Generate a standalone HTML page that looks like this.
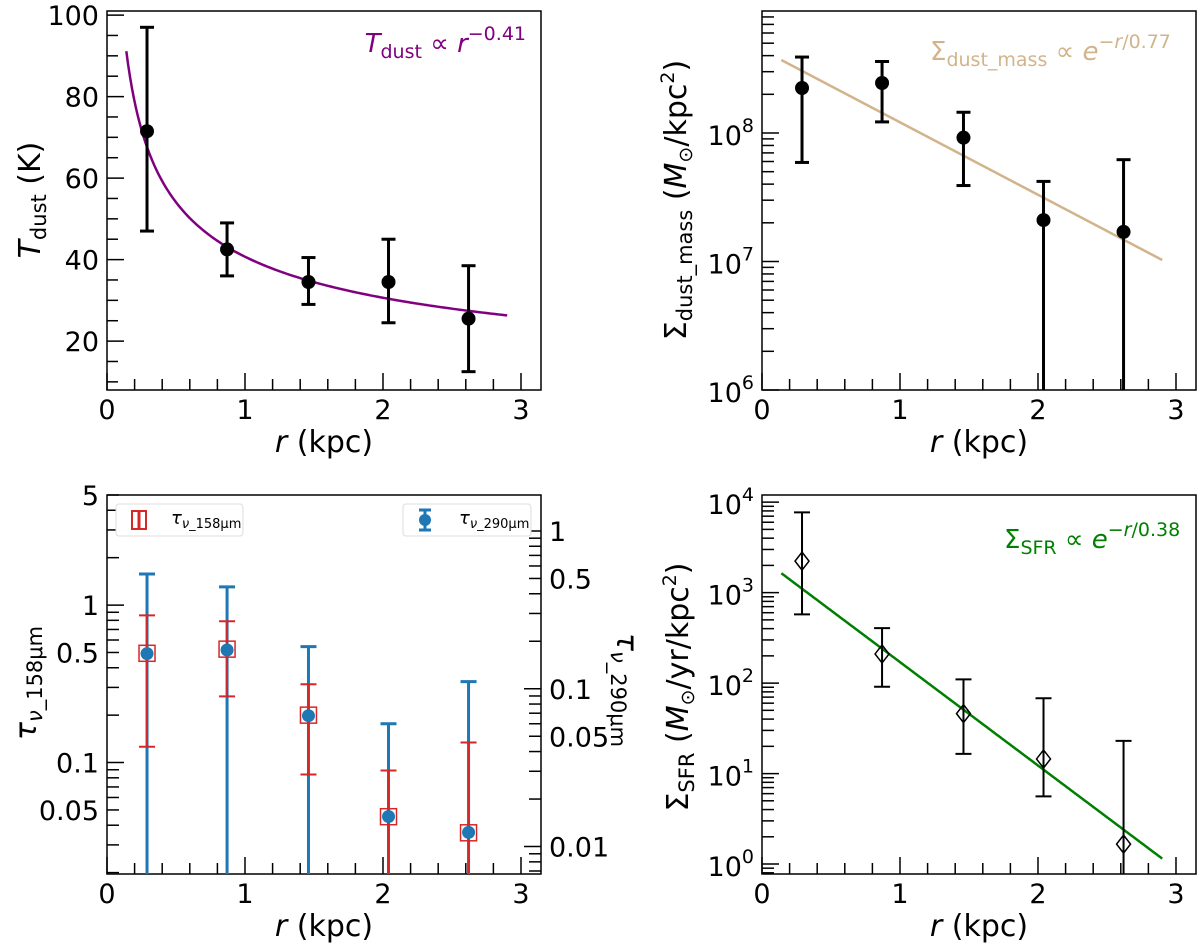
<!DOCTYPE html>
<html><head><meta charset="utf-8"><style>
html,body{margin:0;padding:0;background:#fff;}
svg{display:block;font-family:"DejaVu Sans","Liberation Sans",sans-serif;}
</style></head><body>
<svg id="fig" width="1200" height="949" viewBox="0 0 1200 949" xmlns="http://www.w3.org/2000/svg"></svg>
<script>
// ---- data ----
const radii = [0.29, 0.87, 1.46, 2.04, 2.62];
const tdust = [71.5, 42.5, 34.5, 34.5, 25.5];
const tdustLo = [47, 36, 29, 24.5, 12.5];
const tdustHi = [97, 49, 40.5, 45, 38.5];
const tdustFit = [40.7, -0.41];            // amplitude, power index
const dmass = [2.24e8, 2.45e8, 9.2e7, 2.1e7, 1.7e7];
const dmassLo = [5.9e7, 1.22e8, 3.9e7, 1e5, 1e5];
const dmassHi = [3.9e8, 3.6e8, 1.45e8, 4.2e7, 6.2e7];
const dmassFit = [4.44e8, 0.77];           // amplitude, scale length
const tau158 = [0.494, 0.525, 0.2, 0.0453, 0.0358];
const tau158Lo = [0.126, 0.263, 0.084, 0.001, 0.001];
const tau158Hi = [0.86, 0.79, 0.314, 0.089, 0.134];
const tau290 = [0.167, 0.176, 0.0675, 0.0155, 0.0123];
const tau290Lo = [0.0001, 0.0001, 0.0001, 0.0001, 0.0001];
const tau290Hi = [0.534, 0.442, 0.185, 0.06, 0.111];
const sfr = [2230, 210, 46, 14.5, 1.66];
const sfrLo = [575, 91, 16.5, 5.6, 0.01];
const sfrHi = [7700, 405, 110, 68, 23];
const sfrFit = [2370, 0.38];
const fitRange = [0.14, 2.9];
const xTicks = [0, 1, 2, 3];
const tTicks = [20, 40, 60, 80, 100];
const tau158Ticks = [0.05, 0.1, 0.5, 1, 5];
const tau290Ticks = [0.01, 0.05, 0.1, 0.5, 1];

const NS = "http://www.w3.org/2000/svg";
const svg = document.getElementById('fig');
const TF = 27; // tick font size
function mk(tag, attrs, parent, name) {
  const e = document.createElementNS(NS, tag);
  for (const k in attrs) e.setAttribute(k, attrs[k]);
  
  
  (parent || svg).appendChild(e);
  return e;
}
function panel(L, T, R, B, xmax, ymin, ymax, log, name) {
  const g = mk('g', {}, svg, name);
  const sx = x => L + (x / xmax) * (R - L);
  const tr = v => log ? Math.log10(v) : v;
  const sy = v => B - (tr(v) - tr(ymin)) / (tr(ymax) - tr(ymin)) * (B - T);
  mk('rect', {x: L, y: T, width: R - L, height: B - T, fill: 'none', stroke: '#000', 'stroke-width': 1.5}, g, 'plot-frame');
  return {g, sx, sy, L, T, R, B};
}
function xAxis(p, xmax) {
  for (let i = 0; i <= Math.floor(xmax * 5 + 1e-6); i++) {
    const v = i / 5, major = i % 5 === 0, x = p.sx(v);
    mk('line', {x1: x, x2: x, y1: p.B, y2: p.B - (major ? 17 : 11), stroke: '#000', 'stroke-width': 1.5}, p.g, 'x-tick');
  }
  xTicks.forEach(v => {
    const t = mk('text', {x: p.sx(v), y: p.B + 29, 'font-size': TF, 'text-anchor': 'middle'}, p.g, 'x-tick-label');
    t.textContent = v;
  });
  const xl = mk('text', {x: (p.L + p.R) / 2, y: p.B + 62, 'font-size': 30, 'text-anchor': 'middle'}, p.g, 'x-axis-title');
  xl.innerHTML = '<tspan font-style="italic">r</tspan> (kpc)';
}
function logTicks(p, lo, hi, side, sy, labels, supLabels) {
  const x0 = side === 'left' ? p.L : p.R, d = side === 'left' ? 1 : -1;
  for (let e = Math.floor(Math.log10(lo)) - 1; e <= Math.ceil(Math.log10(hi)); e++) {
    for (let m = 1; m <= 9; m++) {
      const v = m * Math.pow(10, e);
      if (v < lo * 0.999 || v > hi * 1.001) continue;
      const y = sy(v);
      mk('line', {x1: x0, x2: x0 + d * (m === 1 ? 17 : 12), y1: y, y2: y, stroke: '#000', 'stroke-width': 1.5}, p.g, 'y-tick');
      if (labels && labels.some(l => Math.abs(l - v) / v < 1e-6)) {
        const t = mk('text', {x: side === 'left' ? x0 - 8 : x0 + 8, y: y + 10, 'font-size': TF, 'text-anchor': side === 'left' ? 'end' : 'start'}, p.g, 'y-tick-label');
        t.textContent = +v.toPrecision(3);
      }
      if (supLabels && m === 1) {
        const t = mk('text', {x: x0 - 8, y: y + 12, 'font-size': TF, 'text-anchor': 'end'}, p.g, 'y-tick-label');
        t.innerHTML = '10<tspan font-size="19" dy="-13">' + e + '</tspan>';
      }
    }
  }
}
function errbars(p, xs, ys, lo, hi, sy, color, lw, cap, name) {
  xs.forEach((x, i) => {
    const X = p.sx(x), yl = Math.min(sy(lo[i]), p.B), yh = sy(hi[i]);
    mk('line', {x1: X, x2: X, y1: yl, y2: yh, stroke: color, 'stroke-width': lw}, p.g, name + '-errorbar');
    mk('line', {x1: X - cap, x2: X + cap, y1: yh, y2: yh, stroke: color, 'stroke-width': lw}, p.g, name + '-cap-top');
    if (sy(lo[i]) < p.B) mk('line', {x1: X - cap, x2: X + cap, y1: yl, y2: yl, stroke: color, 'stroke-width': lw}, p.g, name + '-cap-bottom');
  });
}
function fitLine(p, fn, sy, color, name) {
  let d = '';
  for (let i = 0; i <= 200; i++) {
    const r = fitRange[0] + (fitRange[1] - fitRange[0]) * i / 200;
    d += (i ? 'L' : 'M') + p.sx(r).toFixed(2) + ',' + sy(fn(r)).toFixed(2);
  }
  mk('path', {d, fill: 'none', stroke: color, 'stroke-width': 2.5}, p.g, name);
}
function ylabel(x, y, html, name, rot) {
  const t = mk('text', {x: 0, y: 0, 'font-size': 30, 'text-anchor': 'middle', transform: `translate(${x},${y}) rotate(${rot || -90})`}, svg, name);
  t.innerHTML = html;
}

// ---- panel 1: T_dust ----
const p1 = panel(107, 11, 541, 390, 3.145, 8, 101, false, 'tdust-panel');
xAxis(p1, 3.145);
for (let v = 10; v <= 100; v += 5) {
  const y = p1.sy(v), major = v % 20 === 0;
  mk('line', {x1: p1.L, x2: p1.L + (major ? 17 : 11), y1: y, y2: y, stroke: '#000', 'stroke-width': 1.5}, p1.g, 'y-tick');
}
tTicks.forEach(v => { const t = mk('text', {x: p1.L - 8, y: p1.sy(v) + 10, 'font-size': TF, 'text-anchor': 'end'}, p1.g, 'y-tick-label'); t.textContent = v; });
fitLine(p1, r => tdustFit[0] * Math.pow(r, tdustFit[1]), p1.sy, '#800080', 'tdust-fit-curve');
errbars(p1, radii, tdust, tdustLo, tdustHi, p1.sy, '#000', 3, 7, 'tdust');
radii.forEach((x, i) => mk('circle', {cx: p1.sx(x), cy: p1.sy(tdust[i]), r: 7, fill: '#000'}, p1.g, 'tdust-point'));
{ const t = mk('text', {x: 526, y: 52, 'font-size': 26, 'text-anchor': 'end', fill: '#800080'}, p1.g, 'tdust-fit-label');
  t.innerHTML = '<tspan font-style="italic">T</tspan><tspan font-size="19" dy="6">dust</tspan><tspan dy="-6"> ∝ </tspan><tspan font-style="italic">r</tspan><tspan font-size="19" dy="-12">−0.41</tspan>'; }
ylabel(40, 200, '<tspan font-style="italic">T</tspan><tspan font-size="21" dy="6">dust</tspan><tspan dy="-6">  (K)</tspan>', 'tdust-y-axis-title');

// ---- panel 2: dust mass ----
const p2 = panel(762, 11, 1196, 390, 3.145, 1e6, 8.9e8, true, 'dust-mass-panel');
xAxis(p2, 3.145);
logTicks(p2, 1e6, 8.9e8, 'left', p2.sy, null, true);
fitLine(p2, r => dmassFit[0] * Math.exp(-r / dmassFit[1]), p2.sy, '#d2b48c', 'dust-mass-fit-line');
errbars(p2, radii, dmass, dmassLo, dmassHi, p2.sy, '#000', 3, 7, 'dust-mass');
radii.forEach((x, i) => mk('circle', {cx: p2.sx(x), cy: p2.sy(dmass[i]), r: 7, fill: '#000'}, p2.g, 'dust-mass-point'));
{ const t = mk('text', {x: 930, y: 60, 'font-size': 26, fill: '#d2b48c'}, p2.g, 'dust-mass-fit-label');
  t.innerHTML = 'Σ<tspan font-size="19" dy="6">dust_mass</tspan><tspan dy="-6"> ∝ </tspan><tspan font-style="italic">e</tspan><tspan font-size="19" dy="-12">−<tspan font-style="italic">r</tspan>/0.77</tspan>'; }
ylabel(686, 200, 'Σ<tspan font-size="21" dy="6">dust_mass</tspan><tspan dy="-6">  (</tspan><tspan font-style="italic">M</tspan><tspan font-size="19" dy="6">⊙</tspan><tspan dy="-6">/kpc</tspan><tspan font-size="19" dy="-12">2</tspan><tspan dy="12">)</tspan>', 'dust-mass-y-axis-title');

// ---- panel 3: tau ----
const p3 = panel(107, 495, 541, 874, 3.145, 0.0196, 5, true, 'tau-panel');
const syR = v => p3.B - (Math.log10(v) - Math.log10(0.0067)) / (Math.log10(1.69) - Math.log10(0.0067)) * (p3.B - p3.T);
xAxis(p3, 3.145);
logTicks(p3, 0.0196, 5, 'left', p3.sy, tau158Ticks, false);
logTicks(p3, 0.0067, 1.69, 'right', syR, tau290Ticks, false);
errbars(p3, radii, tau290, tau290Lo, tau290Hi, syR, '#1f77b4', 3, 8, 'tau290');
errbars(p3, radii, tau158, tau158Lo, tau158Hi, p3.sy, '#d62728', 2, 8, 'tau158');
radii.forEach((x, i) => mk('rect', {x: p3.sx(x) - 8, y: p3.sy(tau158[i]) - 8, width: 16, height: 16, fill: 'none', stroke: '#d62728', 'stroke-width': 1.5}, p3.g, 'tau158-marker'));
radii.forEach((x, i) => mk('circle', {cx: p3.sx(x), cy: syR(tau290[i]), r: 6.5, fill: '#1f77b4'}, p3.g, 'tau290-point'));
// legends
{ const lg = mk('g', {}, p3.g, 'tau158-legend');
  mk('rect', {x: 116, y: 504, width: 127, height: 32, rx: 3, fill: '#fff', stroke: '#ddd', 'stroke-width': 1}, lg, 'legend-box');
  mk('rect', {x: 132, y: 511, width: 14, height: 18, fill: 'none', stroke: '#d62728', 'stroke-width': 2}, lg, 'legend-marker');
  mk('line', {x1: 139, x2: 139, y1: 511, y2: 529, stroke: '#d62728', 'stroke-width': 3}, lg, 'legend-marker-bar');
  const t = mk('text', {x: 171, y: 524, 'font-size': 16}, lg, 'legend-label');
  t.innerHTML = '<tspan font-style="italic" font-size="18">τ</tspan><tspan font-size="13" dy="4"><tspan font-style="italic">ν</tspan>_158μm</tspan>';
}
{ const lg = mk('g', {}, p3.g, 'tau290-legend');
  mk('rect', {x: 403, y: 504, width: 128, height: 32, rx: 3, fill: '#fff', stroke: '#ddd', 'stroke-width': 1}, lg, 'legend-box');
  mk('line', {x1: 425, x2: 425, y1: 510, y2: 530, stroke: '#1f77b4', 'stroke-width': 3}, lg, 'legend-marker-bar');
  mk('line', {x1: 419, x2: 431, y1: 510, y2: 510, stroke: '#1f77b4', 'stroke-width': 3}, lg, 'legend-marker-cap');
  mk('line', {x1: 419, x2: 431, y1: 530, y2: 530, stroke: '#1f77b4', 'stroke-width': 3}, lg, 'legend-marker-cap');
  mk('circle', {cx: 425, cy: 520, r: 6, fill: '#1f77b4'}, lg, 'legend-marker');
  const t = mk('text', {x: 459, y: 524, 'font-size': 16}, lg, 'legend-label');
  t.innerHTML = '<tspan font-style="italic" font-size="18">τ</tspan><tspan font-size="13" dy="4"><tspan font-style="italic">ν</tspan>_290μm</tspan>';
}
ylabel(36, 683, '<tspan font-style="italic">τ</tspan><tspan font-size="21" dy="6"><tspan font-style="italic">ν</tspan>_158μm</tspan>', 'tau158-y-axis-title');
ylabel(617, 690, '<tspan font-style="italic">τ</tspan><tspan font-size="21" dy="6"><tspan font-style="italic">ν</tspan>_290μm</tspan>', 'tau290-y-axis-title', 90);

// ---- panel 4: SFR ----
const p4 = panel(762, 495, 1196, 874, 3.145, 0.776, 1.2e4, true, 'sfr-panel');
xAxis(p4, 3.145);
logTicks(p4, 0.776, 1.2e4, 'left', p4.sy, null, true);
fitLine(p4, r => sfrFit[0] * Math.exp(-r / sfrFit[1]), p4.sy, '#008000', 'sfr-fit-line');
errbars(p4, radii, sfr, sfrLo, sfrHi, p4.sy, '#000', 2, 8, 'sfr');
radii.forEach((x, i) => { const X = p4.sx(x), Y = p4.sy(sfr[i]);
  mk('polygon', {points: `${X},${Y-9} ${X+7},${Y} ${X},${Y+9} ${X-7},${Y}`, fill: 'none', stroke: '#000', 'stroke-width': 1.5}, p4.g, 'sfr-point'); });
{ const t = mk('text', {x: 1004, y: 548, 'font-size': 26, fill: '#008000'}, p4.g, 'sfr-fit-label');
  t.innerHTML = 'Σ<tspan font-size="19" dy="6">SFR</tspan><tspan dy="-6"> ∝ </tspan><tspan font-style="italic">e</tspan><tspan font-size="19" dy="-12">−<tspan font-style="italic">r</tspan>/0.38</tspan>'; }
ylabel(688, 687, 'Σ<tspan font-size="21" dy="6">SFR</tspan><tspan dy="-6">  (</tspan><tspan font-style="italic">M</tspan><tspan font-size="19" dy="6">⊙</tspan><tspan dy="-6">/yr/kpc</tspan><tspan font-size="19" dy="-12">2</tspan><tspan dy="12">)</tspan>', 'sfr-y-axis-title');
</script>
</body></html>
